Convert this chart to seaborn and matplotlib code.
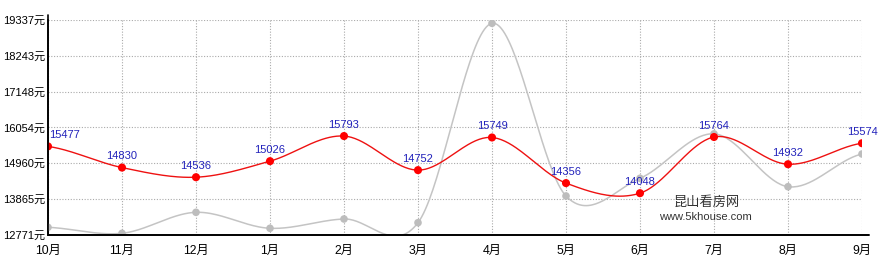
import numpy as np
import pandas as pd
import matplotlib
matplotlib.use("Agg")
import matplotlib.pyplot as plt
import seaborn as sns

months = ["10月", "11月", "12月", "1月", "2月", "3月", "4月", "5月", "6月", "7月", "8月", "9月"]
red_values = [15477, 14830, 14536, 15026, 15793, 14752, 15749, 14356, 14048, 15764, 14932, 15574]
gray_values = [13006, 12823, 13464, 12976, 13260, 13147, 19236, 13962, 14503, 15860, 14246, 15245]
y_ticks = [12771, 13865, 14960, 16054, 17148, 18243, 19337]


def catmull_rom(x, y, n=40):
    x = np.asarray(x, float)
    y = np.asarray(y, float)
    k = len(x)
    m = np.zeros(k)
    m[1:-1] = (y[2:] - y[:-2]) / 2
    m[0] = (y[1] - y[0]) / 2
    m[-1] = (y[-1] - y[-2]) / 2
    xs, ys = [], []
    for i in range(k - 1):
        t = np.linspace(0, 1, n, endpoint=(i == k - 2))
        h00 = 2 * t ** 3 - 3 * t ** 2 + 1
        h10 = t ** 3 - 2 * t ** 2 + t
        h01 = -2 * t ** 3 + 3 * t ** 2
        h11 = t ** 3 - t ** 2
        xs.append(x[i] + t * (x[i + 1] - x[i]))
        ys.append(h00 * y[i] + h10 * m[i] + h01 * y[i + 1] + h11 * m[i + 1])
    return np.concatenate(xs), np.concatenate(ys)


sns.set_style("white")
plt.rcParams["font.family"] = ["Liberation Sans", "Noto Sans CJK SC", "DejaVu Sans"]

fig = plt.figure(figsize=(8.92, 2.70), dpi=100)
ax = fig.add_axes([48 / 892, 1 - 235 / 270, (862 - 48) / 892, (235 - 20) / 270])

xpos = np.arange(len(months))
gx, gy = catmull_rom(xpos, gray_values)
rx, ry = catmull_rom(xpos, red_values)

sns.lineplot(x=gx, y=gy, ax=ax, color="#c4c4c4", linewidth=1.1, sort=False, zorder=2)
sns.scatterplot(x=xpos, y=gray_values, ax=ax, color="#bdbdbd", s=30, edgecolor="none", zorder=3)
sns.lineplot(x=rx, y=ry, ax=ax, color="#ee1111", linewidth=1.0, sort=False, zorder=4)
sns.scatterplot(x=xpos, y=red_values, ax=ax, color="#ff0000", s=34, edgecolor="none", zorder=5)

for i, v in enumerate(red_values):
    ax.annotate(str(v), (xpos[i], v), xytext=(0 if i else 1, 4.5), textcoords="offset points",
                ha="center" if i else "left", va="bottom", fontsize=8, color="#2222bb",
                zorder=6, annotation_clip=False)

ax.set_xlim(0, 11)
ax.set_ylim(y_ticks[0], y_ticks[-1])
ax.set_xticks(xpos)
ax.set_xticklabels(months)
ax.set_yticks(y_ticks)
ax.set_yticklabels([f"{t}元" for t in y_ticks])
ax.tick_params(axis="both", length=0, labelsize=8, colors="black", pad=2)
ax.tick_params(axis="x", pad=7, labelsize=8.8)
ax.grid(True, linestyle=(0, (1, 1.5)), color="#aaaaaa", linewidth=0.8)
ax.set_axisbelow(True)
for s in ["top", "right"]:
    ax.spines[s].set_visible(False)
ax.spines["left"].set_color("black")
ax.spines["left"].set_linewidth(1.2)
ax.spines["bottom"].set_visible(False)
ax.plot([0, 11.1], [y_ticks[0], y_ticks[0]], color="black", linewidth=1.4, clip_on=False, zorder=7)
ax.plot([0, 0], [y_ticks[0], y_ticks[-1] + 150], color="black", linewidth=1.2, clip_on=False, zorder=7)

ax.text(8.9, 13779, "昆山看房网", fontsize=9.5, color="#333333", ha="center", va="center",
        family=["Noto Sans CJK SC", "DejaVu Sans"], zorder=6)
ax.text(8.88, 13321, "www.5khouse.com", fontsize=8, color="#333333", ha="center", va="center", zorder=6)

fig.savefig("out.png", dpi=100)
